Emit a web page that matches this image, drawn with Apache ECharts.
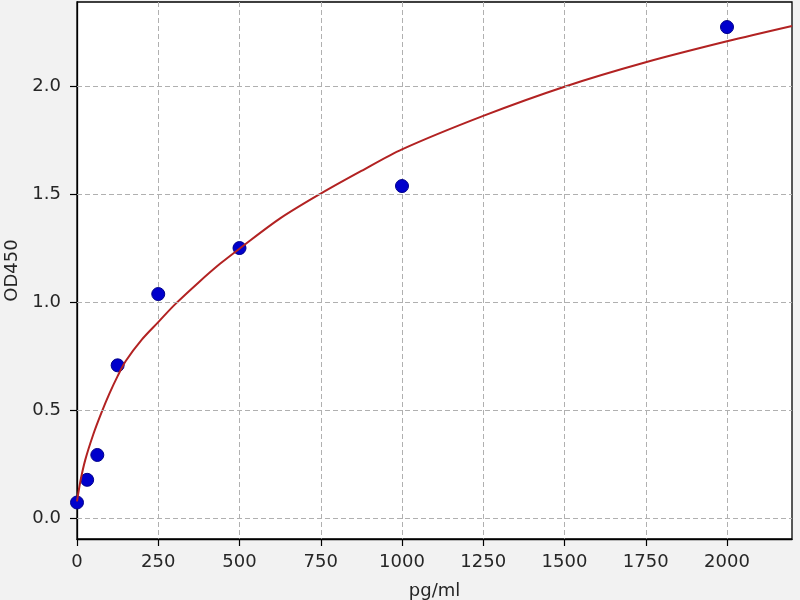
<!DOCTYPE html>
<html>
<head>
<meta charset="utf-8">
<title>OD450 standard curve</title>
<script src="https://cdn.jsdelivr.net/npm/echarts@6.0.0/dist/echarts.min.js"></script>
<style>
  html, body { margin: 0; padding: 0; background: #f2f2f2; }
  #chart { width: 800px; height: 600px; }
</style>
</head>
<body>
<div id="chart"></div>
<script>
// standards (pg/ml) and measured OD
var concs = [0, 31.25, 62.5, 125, 250, 500, 1000, 2000];
var ods = [0.075, 0.18, 0.295, 0.71, 1.04, 1.253, 1.54, 2.276];

// fitted curve
var curveX = [0, 10, 25, 50, 75, 100, 125, 150, 200, 250, 300, 375, 440, 500, 625, 750, 875, 1000, 1250, 1500, 1750, 2000, 2200];
var curveY = [0.08, 0.17, 0.27, 0.39, 0.49, 0.58, 0.66, 0.73, 0.83, 0.91, 0.99, 1.095, 1.18, 1.25, 1.39, 1.505, 1.61, 1.71, 1.865, 2.0, 2.113, 2.21, 2.281];

// ticks
var xTicks = [0, 250, 500, 750, 1000, 1250, 1500, 1750, 2000];
var yTicks = [0, 0.5, 1.0, 1.5, 2.0];

var textColor = "#262626";
var font = "DejaVu Sans";

function drawChart() {
  var chart = echarts.init(document.getElementById("chart"));
  var points = concs.map(function (c, i) { return [c, ods[i]]; });
  var curve = curveX.map(function (c, i) { return [c, curveY[i]]; });

  var option = {
    backgroundColor: "#f2f2f2",
    animation: false,
    grid: {
      left: 77, right: 8, top: 2, bottom: 61,
      outerBoundsMode: "none",
      containLabel: false,
      show: true,
      backgroundColor: "#ffffff",
      borderColor: "#000000",
      borderWidth: 1.3
    },
    xAxis: {
      type: "value",
      min: 0,
      max: 2200,
      interval: 250,
      name: "pg/ml",
      nameLocation: "middle",
      nameGap: 43,
      nameTextStyle: { color: textColor, fontSize: 18, fontFamily: font },
      axisLine: { show: true, onZero: false, lineStyle: { color: "#000", width: 1.3 } },
      axisTick: { show: true, length: 7, customValues: xTicks, lineStyle: { color: "#000", width: 1.2 } },
      axisLabel: {
        customValues: xTicks,
        margin: 14,
        color: textColor, fontSize: 18, fontFamily: font,
        formatter: function (v) { return String(v); }
      },
      splitLine: { show: true, lineStyle: { color: "#b0b0b0", type: [5, 3], width: 1 } }
    },
    yAxis: {
      type: "value",
      min: -0.094,
      max: 2.392,
      name: "OD450",
      nameLocation: "middle",
      nameGap: 56,
      nameTextStyle: { color: textColor, fontSize: 18, fontFamily: font },
      axisLine: { show: true, onZero: false, lineStyle: { color: "#000", width: 1.3 } },
      axisTick: { show: true, length: 7, customValues: yTicks, lineStyle: { color: "#000", width: 1.2 } },
      axisLabel: {
        customValues: yTicks,
        margin: 16,
        color: textColor, fontSize: 18, fontFamily: font,
        formatter: function (v) { return v.toFixed(1); }
      },
      splitLine: { show: false }
    },
    series: [
      {
        // horizontal grid lines
        type: "line",
        data: [],
        silent: true,
        markLine: {
          silent: true,
          symbol: "none",
          label: { show: false },
          lineStyle: { color: "#b0b0b0", type: [5, 3], width: 1 },
          data: yTicks.map(function (t) { return { yAxis: t }; })
        }
      },
      {
        type: "scatter",
        data: points,
        symbol: "circle",
        symbolSize: 13,
        itemStyle: { color: "#0000cc", borderColor: "#00008b", borderWidth: 1, opacity: 1 },
        z: 3
      },
      {
        type: "line",
        data: curve,
        smooth: 0.3,
        showSymbol: false,
        lineStyle: { color: "#b22222", width: 2 },
        z: 4
      }
    ]
  };

  chart.setOption(option);
}

drawChart();
</script>
</body>
</html>
